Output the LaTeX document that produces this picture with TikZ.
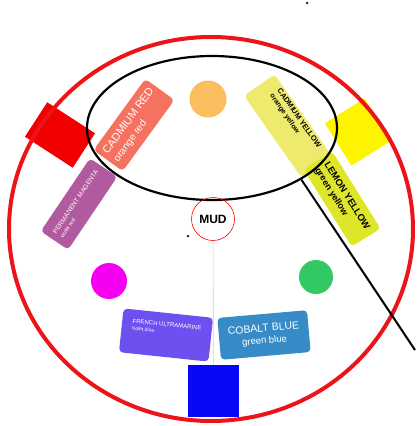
\documentclass[tikz,border=0pt]{standalone}
\usepackage{fontspec}
\setmainfont{Liberation Sans}
\usetikzlibrary{shapes.geometric}
\definecolor{ringred}{RGB}{236,20,24}
\definecolor{purered}{RGB}{242,0,0}
\definecolor{pureyellow}{RGB}{255,244,0}
\definecolor{pureblue}{RGB}{8,8,245}
\definecolor{cadred}{RGB}{246,114,96}
\definecolor{cadyellow}{RGB}{238,234,110}
\definecolor{lemon}{RGB}{222,230,42}
\definecolor{permmag}{RGB}{178,90,160}
\definecolor{ultra}{RGB}{110,80,240}
\definecolor{cobalt}{RGB}{55,140,200}
\definecolor{orangedot}{RGB}{250,190,95}
\definecolor{magentadot}{RGB}{245,0,240}
\definecolor{greendot}{RGB}{50,200,100}
\newcommand{\sz}[2]{\fontsize{#1}{#2}\selectfont}
\begin{document}
\begin{tikzpicture}[x=1pt, y=-1pt,
  tube/.style = {rounded corners=4pt, inner xsep=4pt, inner ysep=2pt, align=left},
  blob/.style = {circle, inner sep=0pt},
  patch/.style = {inner sep=0pt}]
\useasboundingbox (0,0) rectangle (418,426);
% primary patches, under the tubes
\node[patch, fill=purered, minimum width=57pt, minimum height=41pt, rotate=-33] (redsq) at (60,135) {};
\node[patch, fill=pureyellow, minimum width=47pt, minimum height=50pt, rotate=32] (yellowsq) at (358,132) {};
% paint tubes
\node[tube, fill=permmag, text=white, font=\sz{6.6}{8}, minimum width=88pt, minimum height=33pt, rotate=56] (permanentmagenta) at (79,204) {PERMANENT MAGENTA\\\sz{5.5}{7}violet red};
\node[tube, fill=cadred, text=white, font=\sz{11}{13}, minimum width=88pt, minimum height=36pt, rotate=54] (cadmiumred) at (134,125) {CADMIUM RED\\\sz{10}{12}orange red};
\node[tube, fill=cadyellow, font=\sz{7.5}{9}\bfseries, minimum width=100pt, minimum height=37pt, rotate=-55] (cadmiumyellow) at (288,126) {CADMIUM YELLOW\\\sz{7}{8}orange yellow\\[10pt]};
\node[tube, fill=lemon, font=\sz{9.5}{11}\bfseries, minimum width=91pt, minimum height=34pt, rotate=-58] (lemonyellow) at (342,199) {LEMON YELLOW\\\sz{9}{10}green yellow};
\node[tube, fill=ultra, text=white, font=\sz{6}{7}, minimum width=90pt, minimum height=44pt, rotate=-6] (frenchultramarine) at (166,335) {FRENCH ULTRAMARINE\\\sz{5}{6}violet blue\\[7pt]};
\node[tube, fill=cobalt, text=white, font=\sz{10.5}{12}, minimum width=90pt, minimum height=42pt, align=center, rotate=5] (cobaltblue) at (264,335) {COBALT BLUE\\\sz{9.5}{11}green blue};
% secondary mixes
\node[blob, fill=orangedot, minimum size=37pt] (orange) at (208,99) {};
\node[blob, fill=magentadot, minimum size=36pt] (magenta) at (109,281) {};
\node[blob, fill=greendot, minimum size=34pt] (green) at (316,277) {};
\node[patch, fill=pureblue, minimum width=51pt, minimum height=52pt] (bluesq) at (213.5,391) {};
% rings
\node[ellipse, draw=ringred, line width=4pt, minimum width=404pt, minimum height=384pt, inner sep=0pt] (ring) at (211,229) {};
\node[ellipse, draw, line width=2.2pt, minimum width=250pt, minimum height=144pt, inner sep=0pt] (lens) at (212,128) {};
\node[circle, draw=red, line width=0.6pt, minimum size=43pt, inner sep=0pt, font=\sz{12}{14}\bfseries] (mud) at (213,219) {MUD};
\draw[gray!40, line width=0.6pt] (mud) -- (bluesq);
\coordinate (tail) at (415,350);
\draw[line width=2pt] (lens.-30) -- (tail);
\node[blob, fill=black, minimum size=2.5pt] (speck) at (307,3) {};
\node[blob, fill=black, minimum size=2.5pt] (fleck) at (188,236) {};
\end{tikzpicture}
\end{document}
